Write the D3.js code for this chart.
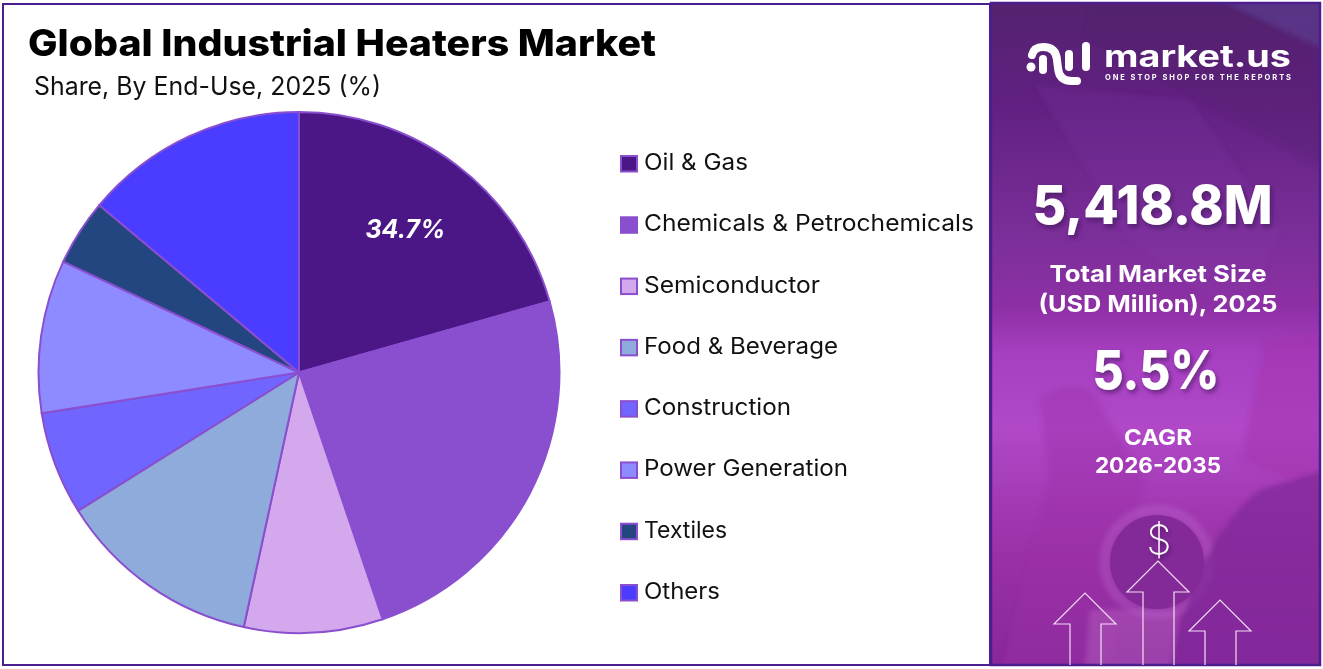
<!DOCTYPE html>
<html>
<head>
<meta charset="utf-8">
<script src="https://cdn.jsdelivr.net/npm/d3@7"></script>
<style>
  html, body { margin: 0; padding: 0; background: #fff; }
  svg { display: block; }
  text { font-family: Inter, "Open Sans", sans-serif; }
</style>
</head>
<body>
<div id="root"></div>
<script>
const categories = ['Oil & Gas', 'Chemicals & Petrochemicals', 'Semiconductor', 'Food & Beverage',
                    'Construction', 'Power Generation', 'Textiles', 'Others'];
// shares as drawn in the picture
const shares = [20.6, 24.2, 8.6, 12.7, 6.4, 9.5, 4.1, 13.9];
const colors = ['#4b1786', '#8a4fcf', '#d3a8ec', '#8fabdc', '#7066ff', '#8e8aff', '#234580', '#4a3dff'];
const sliceLabels = ['34.7%', '', '', '', '', '', '', ''];

const width = 1323;
const height = 669;
const frameColor = '#4b1d8f';

const svg = d3.select('#root').append('svg')
    .attr('width', width)
    .attr('height', height);

const defs = svg.append('defs');

// Right panel background
const grad = defs.append('linearGradient')
    .attr('id', 'panelGrad')
    .attr('x1', 0).attr('y1', 0).attr('x2', 0).attr('y2', 1);
[[0, '#54236f'], [0.14, '#602080'], [0.36, '#7c2f9a'], [0.46, '#8e30a5'], [0.53, '#a63fc0'], [0.64, '#b048c8'], [0.84, '#9a30a5'], [1, '#88289a']]
    .forEach(s => grad.append('stop').attr('offset', s[0]).attr('stop-color', s[1]));

const shadow = defs.append('filter').attr('id', 'txtShadow')
    .attr('x', '-20%').attr('y', '-20%').attr('width', '140%').attr('height', '150%');
shadow.append('feDropShadow')
    .attr('dx', 2).attr('dy', 3).attr('stdDeviation', 2)
    .attr('flood-color', '#30104a').attr('flood-opacity', 0.55);

const soft = defs.append('filter').attr('id', 'soft')
    .attr('x', '-10%').attr('y', '-10%').attr('width', '120%').attr('height', '120%');
soft.append('feGaussianBlur').attr('stdDeviation', 2.5);

const panelClip = defs.append('clipPath').attr('id', 'panelClip');
panelClip.append('rect').attr('x', 991).attr('y', 3).attr('width', 329).attr('height', 662);

svg.append('rect').attr('x', 991).attr('y', 3).attr('width', 329).attr('height', 662)
    .attr('fill', 'url(#panelGrad)');

// faint shapes from the panel's photo
const panel = svg.append('g').attr('clip-path', 'url(#panelClip)');
const photo = panel.append('g').attr('filter', 'url(#soft)');
photo.append('path').attr('d', 'M1220,0L1325,0L1325,50Z').attr('fill', '#5a3a8c').attr('opacity', 0.8);
photo.append('path').attr('d', 'M1090,0L1220,0L1325,50L1325,170L1085,35Z').attr('fill', '#4a1a68').attr('opacity', 0.25);
photo.append('path').attr('d', 'M1035,85L1190,100L1280,230L1240,320L1130,240Z').attr('fill', '#8a48b0').attr('opacity', 0.14);
photo.append('path').attr('d', 'M1265,340L1325,330L1325,470L1300,483L1242,460Z').attr('fill', '#a32fa8').attr('opacity', 0.4);
photo.append('path').attr('d', 'M1040,400Q1060,380 1090,390L1145,480L1110,665L1003,665L1050,480Z').attr('fill', '#9a32a8').attr('opacity', 0.4);
photo.append('path').attr('d', 'M1090,610L1180,610L1170,670L1085,670Z').attr('fill', '#c070c8').attr('opacity', 0.35);
photo.append('circle').attr('cx', 1157).attr('cy', 562).attr('r', 52).attr('fill', 'none')
    .attr('stroke', '#c070d8').attr('stroke-width', 10).attr('opacity', 0.3);
photo.append('path').attr('d', 'M1170,670Q1195,540 1260,490L1325,470L1325,670Z').attr('fill', '#80289a').attr('opacity', 0.75);
panel.append('circle').attr('cx', 1157).attr('cy', 562).attr('r', 47).attr('fill', '#842a98');

// Frames
svg.append('rect').attr('x', 3).attr('y', 4).attr('width', 987).attr('height', 661)
    .attr('fill', 'none').attr('stroke', frameColor).attr('stroke-width', 2);
svg.append('rect').attr('x', 991).attr('y', 3).attr('width', 329).attr('height', 662)
    .attr('fill', 'none').attr('stroke', frameColor).attr('stroke-width', 2.5);

// Titles
svg.append('text').attr('x', 28).attr('y', 56)
    .attr('font-size', 37).attr('font-weight', 800).attr('fill', '#000')
    .attr('textLength', 628).attr('lengthAdjust', 'spacingAndGlyphs')
    .text('Global Industrial Heaters Market');
svg.append('text').attr('x', 34).attr('y', 95)
    .attr('font-size', 25).attr('fill', '#111')
    .attr('textLength', 347).attr('lengthAdjust', 'spacingAndGlyphs')
    .text('Share, By End-Use, 2025 (%)');

// Pie
const cx = 299, cy = 372.5, radius = 260.5;
const pie = d3.pie().sort(null).value(d => d);
const arc = d3.arc().innerRadius(0).outerRadius(radius);
const arcs = pie(shares);

const pieG = svg.append('g').attr('transform', `translate(${cx},${cy})`);
pieG.selectAll('path').data(arcs).join('path')
    .attr('d', arc)
    .attr('fill', (d, i) => colors[i])
    .attr('stroke', '#8a4fcf')
    .attr('stroke-width', 2);

pieG.selectAll('text').data(arcs.filter(d => sliceLabels[d.index])).join('text')
    .attr('transform', d => {
        const c = d3.arc().innerRadius(radius * 0.69).outerRadius(radius * 0.69).centroid(d);
        return `translate(${c})`;
    })
    .attr('text-anchor', 'middle')
    .attr('dx', -2)
    .attr('dy', '0.35em')
    .attr('font-size', 25)
    .attr('font-weight', 700)
    .attr('font-style', 'italic')
    .attr('fill', '#fff')
    .text(d => sliceLabels[d.index]);

// Legend
const legendY = d3.scalePoint().domain(categories).range([163.5, 592.5]);
const legend = svg.append('g').selectAll('g').data(categories).join('g')
    .attr('transform', d => `translate(620,${legendY(d)})`);
legend.append('rect')
    .attr('x', 1).attr('y', -7.5)
    .attr('width', 16).attr('height', 15.5)
    .attr('fill', (d, i) => colors[i])
    .attr('stroke', '#8a4fcf')
    .attr('stroke-width', 2);
const legendWidths = [104, 330, 176, 194, 147, 204, 83, 76];
legend.append('text')
    .attr('x', 24).attr('y', 6.5)
    .attr('font-size', 22.5)
    .attr('fill', '#111')
    .attr('textLength', (d, i) => legendWidths[i])
    .attr('lengthAdjust', 'spacingAndGlyphs')
    .text(d => d);

// Logo
const logo = svg.append('g').attr('fill', 'none').attr('stroke', '#fff')
    .attr('stroke-linecap', 'round').attr('stroke-width', 8);
logo.append('circle').attr('cx', 1031).attr('cy', 67).attr('r', 4.5).attr('fill', '#fff').attr('stroke', 'none');
logo.append('path').attr('d', 'M1032,55Q1034,47 1043,47Q1056,47 1057,60L1058,68Q1059,81 1072,81L1077,81');
logo.append('path').attr('d', 'M1043,59L1043,70');
logo.append('path').attr('d', 'M1069,54L1069,67');
logo.append('path').attr('d', 'M1086,46L1086,67');

svg.append('text').attr('x', 1104).attr('y', 67)
    .attr('font-size', 30).attr('font-weight', 700).attr('fill', '#fff')
    .attr('textLength', 187).attr('lengthAdjust', 'spacingAndGlyphs')
    .text('market.us');
svg.append('text').attr('x', 1105).attr('y', 80)
    .attr('font-size', 7.5).attr('font-weight', 700).attr('fill', '#fff')
    .attr('textLength', 186).attr('lengthAdjust', 'spacing')
    .text('ONE STOP SHOP FOR THE REPORTS');

// Panel texts
const panelTexts = [
    { t: '5,418.8M', x: 1152.5, y: 224, s: 54, w: 800, len: 240, f: true },
    { t: 'Total Market Size', x: 1158, y: 282, s: 23.5, w: 700, len: 217 },
    { t: '(USD Million), 2025', x: 1158, y: 312, s: 23.5, w: 700, len: 239 },
    { t: '5.5%', x: 1156, y: 389, s: 54, w: 800, len: 127, f: true },
    { t: 'CAGR', x: 1158, y: 445, s: 22, w: 700, len: 68 },
    { t: '2026-2035', x: 1158, y: 473, s: 22, w: 700, len: 126 }
];
svg.append('g').selectAll('text').data(panelTexts).join('text')
    .attr('x', d => d.x).attr('y', d => d.y)
    .attr('text-anchor', 'middle')
    .attr('font-size', d => d.s)
    .attr('font-weight', d => d.w)
    .attr('fill', '#fff')
    .attr('filter', d => d.f ? 'url(#txtShadow)' : null)
    .attr('textLength', d => d.len)
    .attr('lengthAdjust', 'spacingAndGlyphs')
    .text(d => d.t);

svg.append('text').attr('x', 1159).attr('y', 554)
    .attr('text-anchor', 'middle')
    .attr('font-size', 40).attr('font-weight', 200).attr('fill', '#fff')
    .attr('filter', 'url(#txtShadow)')
    .text('$');

// Arrows
const arrowTips = [[1085, 593], [1158, 561], [1220, 600]];
svg.append('g').selectAll('path').data(arrowTips).join('path')
    .attr('d', d => `M${d[0] - 15},665V${d[1] + 31}H${d[0] - 31}L${d[0]},${d[1]}L${d[0] + 31},${d[1] + 31}H${d[0] + 16}V665`)
    .attr('fill', 'none')
    .attr('stroke', '#f3dcf6')
    .attr('stroke-width', 1.2);
</script>
</body>
</html>
